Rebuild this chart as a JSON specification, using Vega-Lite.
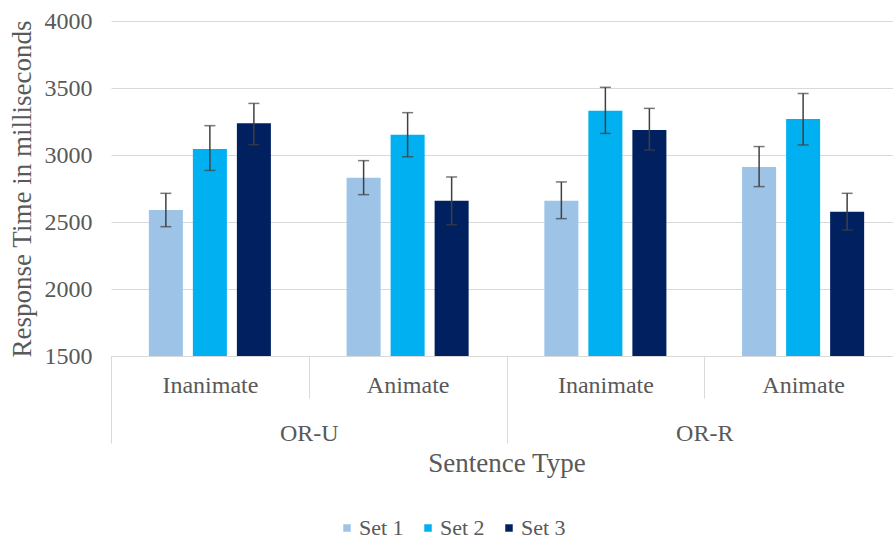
{
  "$schema": "https://vega.github.io/schema/vega-lite/v6.json",
  "width": 791,
  "height": 335,
  "autosize": {"type": "none"},
  "padding": {"left": 111, "top": 21, "right": 0, "bottom": 185},
  "background": "white",
  "config": {
    "view": {"stroke": null},
    "font": "Liberation Serif",
    "style": {
      "guide-label": {"font": "Liberation Serif"},
      "guide-title": {"font": "Liberation Serif"}
    },
    "axis": {
      "labelColor": "#595959",
      "titleColor": "#595959",
      "labelFont": "Liberation Serif",
      "titleFont": "Liberation Serif",
      "titleFontWeight": "normal"
    },
    "legend": {"labelColor": "#595959", "labelFont": "Liberation Serif"}
  },
  "data": {
    "values": [
      {"key": "OR-U|Inanimate", "type": "OR-U", "set": "Set 1", "mean": 2590, "lo": 2465, "hi": 2714},
      {"key": "OR-U|Inanimate", "type": "OR-U", "set": "Set 2", "mean": 3045, "lo": 2885, "hi": 3219},
      {"key": "OR-U|Inanimate", "type": "OR-U", "set": "Set 3", "mean": 3237, "lo": 3077, "hi": 3385},
      {"key": "OR-U|Animate", "type": "OR-U", "set": "Set 1", "mean": 2831, "lo": 2704, "hi": 2958},
      {"key": "OR-U|Animate", "type": "OR-U", "set": "Set 2", "mean": 3152, "lo": 2987, "hi": 3316},
      {"key": "OR-U|Animate", "type": "OR-U", "set": "Set 3", "mean": 2659, "lo": 2480, "hi": 2836},
      {"key": "OR-R|Inanimate", "type": "OR-R", "set": "Set 1", "mean": 2659, "lo": 2525, "hi": 2799},
      {"key": "OR-R|Inanimate", "type": "OR-R", "set": "Set 2", "mean": 3331, "lo": 3161, "hi": 3505},
      {"key": "OR-R|Inanimate", "type": "OR-R", "set": "Set 3", "mean": 3187, "lo": 3037, "hi": 3348},
      {"key": "OR-R|Animate", "type": "OR-R", "set": "Set 1", "mean": 2910, "lo": 2764, "hi": 3063},
      {"key": "OR-R|Animate", "type": "OR-R", "set": "Set 2", "mean": 3269, "lo": 3075, "hi": 3459},
      {"key": "OR-R|Animate", "type": "OR-R", "set": "Set 3", "mean": 2577, "lo": 2440, "hi": 2714}
    ]
  },
  "resolve": {"scale": {"x": "independent"}, "axis": {"x": "independent"}},
  "layer": [
    {
      "encoding": {
        "x": {
          "field": "key",
          "type": "nominal",
          "sort": null,
          "scale": {"domain": ["OR-U|Inanimate", "OR-U|Animate", "OR-R|Inanimate", "OR-R|Animate"], "paddingInner": 0, "paddingOuter": 0},
          "axis": {
            "title": null,
            "orient": "bottom",
            "labelExpr": "split(datum.value, '|')[1]",
            "labelAngle": 0,
            "labelFont": "Liberation Serif",
            "labelFontSize": 24,
            "labelPadding": -25,
            "tickBand": "extent",
            "tickSize": 42,
            "tickColor": "#D9D9D9",
            "domainColor": "#D9D9D9",
            "grid": false
          }
        },
        "xOffset": {
          "field": "set",
          "type": "nominal",
          "scale": {"paddingInner": 0.227, "paddingOuter": 0.86}
        }
      },
      "layer": [
        {
          "mark": {"type": "bar", "clip": true},
          "encoding": {
            "y": {
              "field": "mean",
              "type": "quantitative",
              "scale": {"domain": [1500, 4000], "zero": false, "nice": false},
              "axis": {
                "title": "Response Time in milliseconds",
                "titleFont": "Liberation Serif",
                "titleFontSize": 27,
                "titlePadding": 8,
                "labelFont": "Liberation Serif",
                "labelFontSize": 24,
                "labelPadding": 19,
                "labelOverlap": false,
                "labelFlush": false,
                "format": "d",
                "values": [1500, 2000, 2500, 3000, 3500, 4000],
                "ticks": false,
                "tickSize": 0,
                "domain": false,
                "grid": true,
                "gridColor": "#D9D9D9"
              }
            },
            "color": {
              "field": "set",
              "type": "nominal",
              "scale": {"domain": ["Set 1", "Set 2", "Set 3"], "range": ["#9DC3E6", "#00B0F0", "#002060"]},
              "legend": {
                "title": null,
                "orient": "none",
                "direction": "horizontal",
                "legendX": 225,
                "legendY": 496,
                "symbolType": "square",
                "symbolSize": 56,
                "symbolStrokeWidth": 0,
                "labelFont": "Liberation Serif",
                "labelFontSize": 22,
                "labelOffset": 1,
                "columnPadding": 13
              }
            }
          }
        },
        {
          "mark": {"type": "rule", "color": "#404040", "strokeWidth": 1.5},
          "encoding": {
            "y": {"field": "lo", "type": "quantitative"},
            "y2": {"field": "hi"}
          }
        },
        {
          "mark": {"type": "tick", "orient": "horizontal", "color": "#404040", "thickness": 1.5, "size": 11},
          "encoding": {"y": {"field": "hi", "type": "quantitative"}}
        },
        {
          "mark": {"type": "tick", "orient": "horizontal", "color": "#404040", "thickness": 1.5, "size": 11},
          "encoding": {"y": {"field": "lo", "type": "quantitative"}}
        }
      ]
    },
    {
      "mark": {"type": "rule", "opacity": 0},
      "encoding": {
        "x": {
          "field": "type",
          "type": "nominal",
          "sort": null,
          "scale": {"domain": ["OR-U", "OR-R"], "paddingInner": 0, "paddingOuter": 0},
          "axis": {
            "title": "Sentence Type",
            "titleFont": "Liberation Serif",
            "titleFontSize": 27,
            "titlePadding": 5,
            "orient": "bottom",
            "offset": 42,
            "domain": false,
            "labelAngle": 0,
            "labelFont": "Liberation Serif",
            "labelFontSize": 24,
            "labelPadding": -22,
            "tickBand": "extent",
            "tickSize": 45,
            "tickColor": "#D9D9D9",
            "grid": false
          }
        }
      }
    }
  ]
}
